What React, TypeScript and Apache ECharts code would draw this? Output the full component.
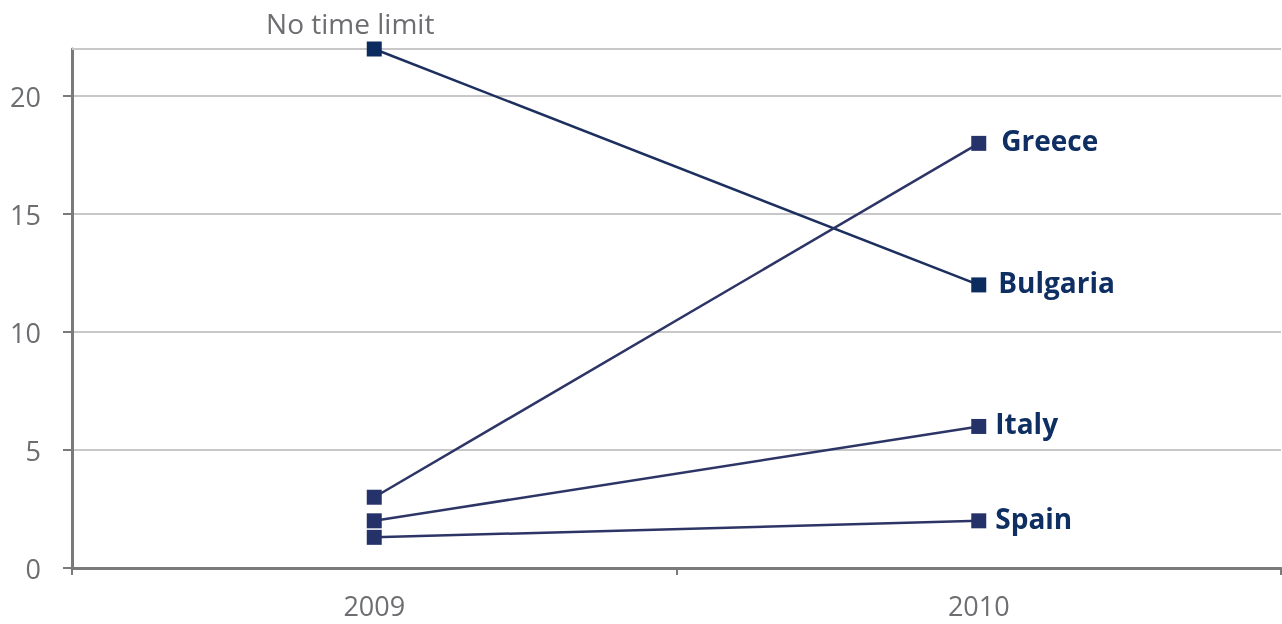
import React, { useEffect, useRef } from "react";
import * as echarts from "echarts";

const years = ["2009", "2010"];
const bulgaria = [22, 12];
const greece = [3, 18];
const italy = [2, 6];
const spain = [1.3, 2];
const yTicks = [0, 5, 10, 15, 20];
const topNote = "No time limit";

export default function App() {
  const ref = useRef<HTMLDivElement>(null);
  useEffect(() => {
    if (!ref.current) return;
    const chart = echarts.init(ref.current, undefined, { renderer: "svg" });
    const labelStyle = (dx: number) => ({
      show: true,
      position: "right",
      distance: 13,
      offset: [dx, -3],
      color: "#0f2f63",
      fontFamily: "Open Sans",
      fontWeight: "bold",
      fontSize: 28,
      formatter: "{a}",
    });
    const mk = (name: string, data: number[], lineColor: string, markColor: string, dx: number, extra: any = {}) => ({
      name,
      type: "line",
      data: data.map((v, i) => {
        if (i === data.length - 1) return { value: v, label: labelStyle(dx) };
        if (extra.firstLabel) return { value: v, label: extra.firstLabel };
        return v;
      }),
      symbol: "rect",
      symbolSize: 15,
      lineStyle: { color: lineColor, width: 2.5 },
      itemStyle: { color: markColor },
      label: { show: false },
      z: 3,
      ...(extra.markLine ? { markLine: extra.markLine } : {}),
    });
    chart.setOption({
      animation: false,
      grid: { left: 72, right: 1, top: 49, bottom: 56 },
      xAxis: {
        type: "category",
        data: years,
        boundaryGap: true,
        axisLine: { lineStyle: { color: "#7a7a7c", width: 3 } },
        axisTick: { show: true, length: 7, lineStyle: { color: "#7a7a7c", width: 2 } },
        axisLabel: { color: "#6d6e71", fontSize: 27, fontFamily: "Open Sans", margin: 24 },
      },
      yAxis: {
        type: "value",
        min: 0,
        max: 22,
        interval: 5,
        axisLine: { show: true, lineStyle: { color: "#7a7a7c", width: 3 } },
        axisTick: { show: true, length: 9, customValues: yTicks, lineStyle: { color: "#7a7a7c", width: 2 } },
        axisLabel: { color: "#6d6e71", fontSize: 27, fontFamily: "Open Sans", margin: 31, customValues: yTicks },
        splitLine: { show: true, lineStyle: { color: "#c8c8ca", width: 2 } },
      },
      series: [
        mk("Bulgaria", bulgaria, "#1c2f5f", "#0c2b5f", -1, {
          firstLabel: {
            show: true,
            position: "top",
            distance: 5,
            offset: [-24, 0],
            color: "#6d6e71",
            fontFamily: "Open Sans",
            fontSize: 28,
            formatter: topNote,
          },
          markLine: {
            silent: true,
            symbol: "none",
            label: { show: false },
            lineStyle: { color: "#c8c8ca", width: 2, type: "solid" },
            data: [{ yAxis: 22 }],
            z: 1,
          },
        }),
        mk("Greece", greece, "#2c3566", "#26336a", 2),
        mk("Italy", italy, "#2c3566", "#25326a", -4),
        mk("Spain", spain, "#2c3566", "#25326a", -4),
      ],
    });
    return () => chart.dispose();
  }, []);
  return <div ref={ref} style={{ position: "fixed", left: 0, top: 0, width: 1282, height: 624 }} />;
}
